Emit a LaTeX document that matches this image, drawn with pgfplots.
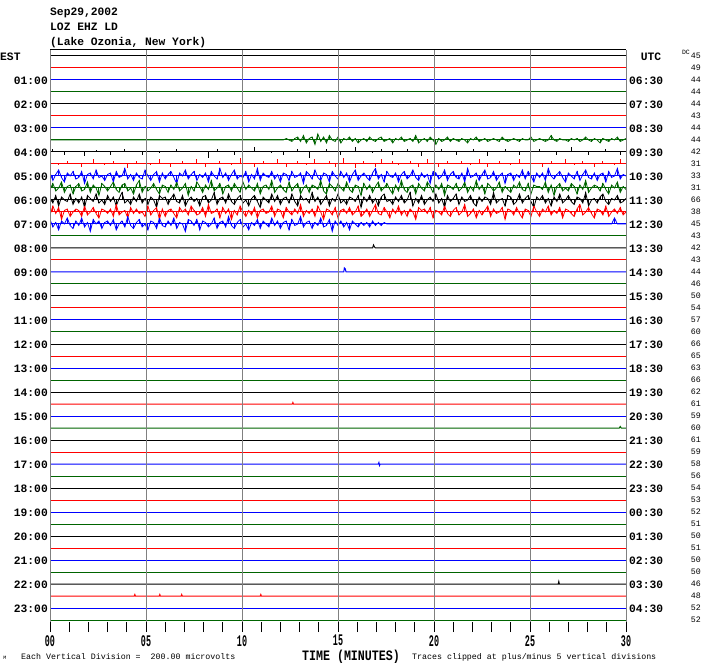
\documentclass[border=0pt]{standalone}
\usepackage{fontspec}
\setmainfont{Liberation Mono}
\usepackage{graphicx}
\usepackage{pgfplots}
\pgfplotsset{compat=1.18}
\usepackage{pgfplotstable}

\definecolor{tk}{RGB}{0,0,0}
\definecolor{tr}{RGB}{255,0,0}
\definecolor{tb}{RGB}{0,0,255}
\definecolor{tg}{RGB}{0,100,0}
\definecolor{gl}{RGB}{128,128,128}

\newcommand\lab{\fontsize{11.3bp}{12bp}\selectfont\bfseries}
\newcommand\sml{\fontsize{8.3bp}{9bp}\selectfont}
\newcommand\dcf{\fontsize{8.3bp}{9bp}\selectfont}
\newcommand\tl[1]{\scalebox{0.7}[1.35]{\fontsize{12bp}{12bp}\selectfont\bfseries #1}}

% trace offsets in pixels (up = +), rows 7..14 (a..h), one sample per 0.15 min
\pgfplotstableread{
x a b c d e f g h
0 0 0 0 2 -1 1 -2 3
0.15 0 2 0 -3 3 -2 4 -2
0.3 0 0 0 1 -2 3 -1 1
0.45 0 0 -1 4 0 -4 3 -4
0.6 0 0 0 -1 4 2 -5 2
0.75 0 -2 0 -4 -3 0 1 0
0.9 0 0 2 2 1 -1 2 4
1.05 0 0 0 0 2 4 -3 -1
1.2 0 0 0 3 -4 -3 0 -3
1.35 0 0 0 -2 1 1 2 2
1.5 0 0 0 -1 3 -2 1 -1
1.65 0 0 -2 3 -2 2 -3 4
1.8 0 -3 0 -5 -1 -5 4 -2
1.95 0 0 0 1 4 3 -2 1
2.1 0 0 0 2 -3 1 0 -5
2.25 0 0 3 -2 2 -1 3 3
2.4 0 1 0 4 0 4 -1 0
2.55 0 0 0 -1 -5 -2 -4 2
2.7 0 0 0 0 3 0 2 -3
2.85 0 0 -1 -3 1 -3 1 1
3 0 0 0 1 -2 3 -1 2
3.15 0 -2 0 2 1 -1 2 -1
3.3 0 0 2 -4 4 2 -3 3
3.45 0 0 0 3 -1 -4 5 -4
3.6 0 0 0 -1 -3 1 -2 0
3.75 0 0 0 0 2 5 0 2
3.9 0 2 0 5 3 -2 1 -2
4.05 0 0 -3 -2 -2 0 -4 5
4.2 0 0 0 1 0 -3 3 -1
4.35 0 0 0 -3 -4 2 -1 -3
4.5 0 0 2 2 2 -1 2 1
4.65 0 0 0 -1 5 4 -1 3
4.8 0 -2 0 -2 -3 -2 0 -2
4.95 0 0 0 4 1 1 -3 0
5.1 0 0 0 0 -2 -3 4 -4
5.25 0 0 -1 -3 0 2 -2 2
5.4 0 0 0 1 3 0 1 1
5.55 0 0 0 3 -1 -5 3 -3
5.7 0 -1 3 -4 -4 3 -5 4
5.85 0 0 0 2 2 1 2 -1
6 0 0 0 -2 1 2 -3 -2
6.15 0 0 0 1 -3 -3 1 2
6.3 0 0 -2 3 2 1 2 -1
6.45 0 0 0 -1 -1 4 -1 4
6.6 0 2 0 -5 4 -1 -4 -3
6.75 0 0 0 2 -2 -2 3 1
6.9 0 0 2 0 0 3 0 0
7.05 0 0 0 4 3 -4 2 -5
7.2 0 0 0 -2 -5 0 -2 3
7.35 0 0 0 1 1 2 4 2
7.5 0 0 0 3 -2 -1 1 -1
7.65 0 0 3 -3 4 1 -2 3
7.8 0 0 0 1 1 -4 -1 -4
7.95 0 0 0 -1 -3 2 3 2
8.1 0 0 -2 2 2 3 -3 1
8.25 0 -4 0 -4 -1 -2 5 -2
8.4 0 0 0 3 5 0 -1 0
8.55 0 0 0 0 -2 5 0 4
8.7 0 2 0 -2 0 -3 2 -3
8.85 0 0 2 5 3 1 -4 1
9 0 0 0 -1 -4 2 3 2
9.15 0 0 0 2 1 -2 -1 -2
9.3 0 0 0 -3 2 4 2 5
9.45 0 0 -1 1 -2 -1 -5 -1
9.6 0 -2 0 4 3 -3 1 -3
9.75 0 0 0 -2 0 1 -2 1
9.9 0 0 4 0 -3 3 4 3
10.05 0 0 0 -1 4 -2 0 -2
10.2 0 0 0 3 -1 0 -3 0
10.35 0 0 0 -4 2 -4 1 -4
10.5 0 0 0 1 0 1 -2 1
10.65 0 3 -2 -2 -2 3 3 -1
10.8 0 0 0 5 3 -1 -4 3
10.95 0 0 0 -3 -4 -5 1 -3
11.1 0 0 2 2 1 2 2 2
11.25 0 0 0 0 2 0 -1 0
11.4 0 0 0 -1 -1 -2 0 -2
11.55 0 -1 0 3 5 4 4 4
11.7 0 0 0 -2 -3 -1 -3 -1
11.85 0 0 3 1 0 3 2 2
12 0 0 0 -4 2 -3 1 -3
12.15 0 -2 0 2 -1 1 -4 1
12.3 1 0 -2 1 -3 2 3 2
12.45 0 0 0 -3 4 -2 0 -4
12.6 -1 0 0 3 -2 4 -2 3
12.75 1 0 0 -1 1 -1 2 -1
12.9 2 2 2 0 3 -4 -1 0
13.05 -1 0 0 2 -4 3 5 5
13.2 3 0 0 -5 0 0 -3 -2
13.35 -2 0 -1 3 2 1 1 1
13.5 1 -4 0 1 -3 -2 -1 2
13.65 2 0 0 -2 2 5 2 -3
13.8 -3 0 3 4 1 -1 -3 1
13.95 4 0 0 -1 -1 2 4 -1
14.1 -1 0 0 -3 5 -3 0 4
14.25 2 0 0 2 -2 0 -5 -2
14.4 -2 2 0 1 -4 3 2 -1
14.55 3 0 2 -4 3 -4 1 3
14.7 0 0 0 3 1 1 -2 -5
14.85 -1 0 -2 0 -2 -1 3 2
15 2 0 0 -2 3 4 -4 -1
15.15 -2 -2 0 3 0 -2 1 2
15.3 1 0 4 -1 -2 0 2 -2
15.45 0 0 0 2 4 -3 -1 1
15.6 2 0 0 -4 -1 2 3 -4
15.75 -1 0 0 1 -3 1 -2 2
15.9 1 3 -3 4 2 -1 0 0
16.05 -2 0 0 -3 1 3 4 -2
16.2 0 0 0 0 -5 -5 -3 1
16.35 1 0 2 2 3 2 -1 -1
16.5 -1 0 0 -1 -1 -1 2 1
16.65 2 0 0 -3 2 3 -3 -2
16.8 0 -1 0 2 -3 -2 1 2
16.95 -1 0 -2 5 1 1 5 -1
17.1 1 0 0 -2 4 -4 -1 1
17.25 2 2 3 1 -2 2 -2 -1
17.4 -1 0 0 -4 0 4 3 1
17.55 0 0 0 3 3 -1 0 0
17.7 1 0 0 0 -1 0 -4 0
17.85 -2 -2 2 -1 -4 -3 2 0
18 1 0 0 2 2 2 -1 0
18.15 0 0 -1 -4 -2 -1 4 0
18.3 2 0 0 1 5 3 -2 0
18.45 -1 0 0 3 -1 -2 1 0
18.6 0 2 0 -2 -3 0 -3 0
18.75 1 0 2 0 1 5 2 0
18.9 -1 0 0 4 2 -4 0 0
19.05 3 0 0 -1 -4 1 -5 0
19.2 -2 0 -2 -3 3 -2 3 0
19.35 0 -3 0 2 0 3 1 0
19.5 1 0 0 -1 -2 -3 2 0
19.65 -1 0 3 1 4 0 -1 0
19.8 2 0 0 -5 1 2 3 0
19.95 0 0 0 3 -3 -1 -4 0
20.1 -3 0 0 2 2 4 1 0
20.25 1 0 -2 -2 -1 -2 0 0
20.4 -1 2 0 0 3 1 -2 0
20.55 0 0 0 4 -5 -5 4 0
20.7 2 0 2 -3 2 3 -1 0
20.85 -1 0 0 1 1 -1 -3 0
21 1 0 0 3 -1 1 1 0
21.15 0 -2 0 -1 3 4 3 0
21.3 -1 0 0 -2 -2 -3 -2 0
21.45 1 0 2 2 0 2 0 0
21.6 0 0 0 -4 4 -1 5 0
21.75 -2 0 0 5 -3 0 -3 0
21.9 1 0 -1 -1 1 3 -1 0
22.05 0 2 0 0 -2 -2 2 0
22.2 2 0 0 2 5 -4 -4 0
22.35 -1 0 3 -3 -1 2 1 0
22.5 0 0 0 1 2 -1 -2 0
22.65 1 0 0 4 -4 2 1 0
22.8 -1 -3 -2 -2 3 1 4 0
22.95 0 0 0 -1 1 -3 -3 0
23.1 1 0 0 3 -2 5 2 0
23.25 0 0 0 -3 0 -2 -1 0
23.4 -1 0 2 0 4 0 0 0
23.55 2 0 0 2 -3 1 3 0
23.7 0 2 0 -5 1 -4 -5 0
23.85 -1 0 0 1 -1 3 2 0
24 0 0 -1 2 -3 2 1 0
24.15 1 0 0 -3 2 -3 -2 0
24.3 0 0 0 1 0 -1 3 0
24.45 -1 -2 3 -1 4 4 -1 0
24.6 1 0 0 4 -1 -2 -4 0
24.75 0 0 0 -2 -2 1 2 0
24.9 0 0 0 3 3 3 1 0
25.05 2 0 2 0 -4 -1 -3 0
25.2 -1 0 0 -4 2 -5 4 0
25.35 0 0 0 2 1 2 0 0
25.5 1 2 0 -1 1 0 -3 0
25.65 0 0 -2 2 -1 3 2 0
25.8 -1 0 0 -3 4 -2 0 0
25.95 0 0 0 5 -3 1 4 0
26.1 3 0 2 0 2 -4 -2 0
26.25 0 0 0 -2 -5 2 1 0
26.4 -1 -2 0 1 1 -1 -1 0
26.55 1 0 0 3 3 4 3 0
26.7 0 0 0 -1 -2 -2 -4 0
26.85 0 0 3 -4 0 0 2 0
27 -1 0 0 2 -2 3 1 0
27.15 1 3 0 0 3 -1 -1 0
27.3 0 0 -1 -2 1 -3 -3 0
27.45 1 0 0 3 -4 2 2 0
27.6 -1 0 0 -3 2 1 5 0
27.75 0 0 2 1 -1 -2 -2 0
27.9 2 0 0 4 5 5 0 0
28.05 0 -2 0 -1 -3 -4 3 0
28.2 -1 0 0 -2 0 0 -1 0
28.35 1 0 -2 2 2 1 -4 0
28.5 0 0 0 -3 1 -2 2 0
28.65 -2 0 0 1 -2 2 1 0
28.8 1 0 2 2 3 4 -2 0
28.95 0 2 0 -4 -1 -1 4 0
29.1 -1 0 0 3 -4 -3 -3 0
29.25 1 0 0 -1 2 1 0 0
29.4 0 0 -1 0 0 0 2 4
29.55 2 0 0 5 4 3 -1 0
29.7 -1 -2 3 -2 -3 -2 3 0
29.85 0 0 0 1 1 -1 -2 0
30 1 0 2 0 -1 1 0 0
}\traces

\begin{document}
\begin{tikzpicture}
\begin{axis}[
  name=ax,
  scale only axis, width=576bp, height=572bp,
  xmin=0, xmax=30, ymin=-566, ymax=6,
  axis line style={draw=none},
  ytick=\empty,
  xtick={0,5,...,30},
  xticklabels={\tl{00},\tl{05},\tl{10},\tl{15},\tl{20},\tl{25},\tl{30}},
  minor x tick num=4,
  xtick pos=left,
  tick align=outside,
  major tick length=10bp, minor tick length=10bp,
  every tick/.style={black, line width=1bp},
  xmajorgrids,
  major grid style={gl, line width=1bp},
  xticklabel style={inner sep=0pt, yshift=-3bp},
  axis on top,
  every axis plot/.append style={line width=1bp},
]
% noisy rows 7..14: baseline, trace through the samples, vertical spikes
\addplot[tg] coordinates {(0,-84) (30,-84)};
\addplot[tk] coordinates {(0,-96) (30,-96)};
\addplot[tr] coordinates {(0,-108) (30,-108)};
\addplot[tb] coordinates {(0,-120) (30,-120)};
\addplot[tg] coordinates {(0,-132) (30,-132)};
\addplot[tk] coordinates {(0,-144) (30,-144)};
\addplot[tr] coordinates {(0,-156) (30,-156)};
\addplot[tb] coordinates {(0,-168) (30,-168)};
\addplot[tg, line width=0.8bp] table[x=x, y expr=1.5*\thisrow{a}-84] {\traces};
\addplot[tb, line width=0.8bp] table[x=x, y expr=1.5*\thisrow{d}-120] {\traces};
\addplot[tg, line width=0.8bp] table[x=x, y expr=1.5*\thisrow{e}-132] {\traces};
\addplot[tk, line width=0.8bp] table[x=x, y expr=1.5*\thisrow{f}-144] {\traces};
\addplot[tr, line width=0.8bp] table[x=x, y expr=1.5*\thisrow{g}-156] {\traces};
\addplot[tb, line width=0.8bp] table[x=x, y expr=1.5*\thisrow{h}-168] {\traces};
\addplot[tg, -, quiver={u=0, v=1.5*\thisrow{a}}] table[x=x, y expr=-84] {\traces};
\addplot[tk, -, quiver={u=0, v=1.5*\thisrow{b}}] table[x=x, y expr=-96] {\traces};
\addplot[tr, -, quiver={u=0, v=1.5*\thisrow{c}}] table[x=x, y expr=-108] {\traces};
\addplot[tb, -, quiver={u=0, v=1.5*\thisrow{d}}] table[x=x, y expr=-120] {\traces};
\addplot[tg, -, quiver={u=0, v=1.5*\thisrow{e}}] table[x=x, y expr=-132] {\traces};
\addplot[tk, -, quiver={u=0, v=1.5*\thisrow{f}}] table[x=x, y expr=-144] {\traces};
\addplot[tr, -, quiver={u=0, v=1.5*\thisrow{g}}] table[x=x, y expr=-156] {\traces};
\addplot[tb, -, quiver={u=0, v=1.5*\thisrow{h}}] table[x=x, y expr=-168] {\traces};
% quiet rows
\addplot[tk] coordinates {(0,0) (30,0)};
\addplot[tr] coordinates {(0,-12) (30,-12)};
\addplot[tb] coordinates {(0,-24) (30,-24)};
\addplot[tg] coordinates {(0,-36) (30,-36)};
\addplot[tk] coordinates {(0,-48) (30,-48)};
\addplot[tr] coordinates {(0,-60) (30,-60)};
\addplot[tb] coordinates {(0,-72) (30,-72)};
\addplot[tg] coordinates {(0,-180) (30,-180)};
\addplot[tk] coordinates {(0,-192) (16.8,-192) (16.85,-189) (16.9,-191) (16.95,-192) (30,-192)};
\addplot[tr] coordinates {(0,-204) (30,-204)};
\addplot[tb] coordinates {(0,-216) (15.3,-216) (15.33,-212) (15.38,-213) (15.42,-216) (30,-216)};
\addplot[tg] coordinates {(0,-228) (30,-228)};
\addplot[tk] coordinates {(0,-240) (30,-240)};
\addplot[tr] coordinates {(0,-252) (30,-252)};
\addplot[tb] coordinates {(0,-264) (30,-264)};
\addplot[tg] coordinates {(0,-276) (30,-276)};
\addplot[tk] coordinates {(0,-288) (30,-288)};
\addplot[tr] coordinates {(0,-300) (30,-300)};
\addplot[tb] coordinates {(0,-312) (30,-312)};
\addplot[tg] coordinates {(0,-324) (30,-324)};
\addplot[tk] coordinates {(0,-336) (30,-336)};
\addplot[tr] coordinates {(0,-348) (12.62,-348) (12.65,-346.5) (12.68,-348) (30,-348)};
\addplot[tb] coordinates {(0,-360) (30,-360)};
\addplot[tg] coordinates {(0,-372) (29.65,-372) (29.7,-370.5) (29.75,-372) (30,-372)};
\addplot[tk] coordinates {(0,-384) (30,-384)};
\addplot[tr] coordinates {(0,-396) (30,-396)};
\addplot[tb] coordinates {(0,-408) (17.1,-408) (17.13,-406.5) (17.16,-409.5) (17.2,-408) (30,-408)};
\addplot[tg] coordinates {(0,-420) (30,-420)};
\addplot[tk] coordinates {(0,-432) (30,-432)};
\addplot[tr] coordinates {(0,-444) (30,-444)};
\addplot[tb] coordinates {(0,-456) (30,-456)};
\addplot[tg] coordinates {(0,-468) (30,-468)};
\addplot[tk] coordinates {(0,-480) (30,-480)};
\addplot[tr] coordinates {(0,-492) (30,-492)};
\addplot[tb] coordinates {(0,-504) (30,-504)};
\addplot[tg] coordinates {(0,-516) (30,-516)};
\addplot[tk] coordinates {(0,-528) (26.47,-528) (26.5,-525.5) (26.53,-528) (30,-528)};
\addplot[tr] coordinates {(0,-540) (4.39,-540) (4.42,-538.5) (4.45,-540) (5.69,-540) (5.72,-538.5) (5.75,-540)
  (6.83,-540) (6.86,-538.5) (6.89,-540) (10.95,-540) (10.98,-538.5) (11.01,-540) (30,-540)};
\addplot[tb] coordinates {(0,-552) (30,-552)};
\addplot[tg] coordinates {(0,-564) (30,-564)};
\end{axis}

\coordinate (O) at ([xshift=-50bp,yshift=50bp]ax.north west);
\begin{scope}[shift={(O)}, x=1bp, y=-1bp]
  \draw[black, line width=1bp] (50,50) -- (626,50);
  \node[anchor=base west, inner sep=0] at (50,16) {\lab Sep29,2002};
  \node[anchor=base west, inner sep=0] at (50,31) {\lab LOZ EHZ LD};
  \node[anchor=base west, inner sep=0] at (50,46) {\lab (Lake Ozonia, New York)};
  \node[anchor=west, inner sep=0] at (0,57) {\lab EST};
  \node[anchor=center, inner sep=0] at (651,57) {\lab UTC};
  \foreach \h [count=\k] in {01:00,02:00,03:00,04:00,05:00,06:00,07:00,08:00,09:00,10:00,11:00,12:00,
      13:00,14:00,15:00,16:00,17:00,18:00,19:00,20:00,21:00,22:00,23:00}
    \node[anchor=east, inner sep=0] at (48,{57+24*\k}) {\lab \h};
  \foreach \h [count=\k] in {06:30,07:30,08:30,09:30,10:30,11:30,12:30,13:30,14:30,15:30,16:30,17:30,
      18:30,19:30,20:30,21:30,22:30,23:30,00:30,01:30,02:30,03:30,04:30}
    \node[anchor=west, inner sep=0] at (629,{57+24*\k}) {\lab \h};
  \node[anchor=east, inner sep=0] at (690,52) {\fontsize{6.5bp}{7bp}\selectfont DC};
  \foreach \v [count=\k from 0] in {45,49,44,44,44,43,44,44,42,31,33,31,66,38,45,43,42,43,44,46,50,54,57,60,
      66,65,63,66,62,61,59,60,61,59,58,56,54,53,52,51,50,51,50,50,46,48,52,52}
    \node[anchor=east, inner sep=0] at (701,{56+12*\k}) {\dcf \v};
  \node[anchor=center, inner sep=0] at (351,657) {\scalebox{0.97}[1.2]{\fontsize{12bp}{12bp}\selectfont\bfseries TIME (MINUTES)}};
  \node[anchor=west, inner sep=0] at (21,657) {\sml Each Vertical Division =\ \ 200.00 microvolts};
  \node[anchor=west, inner sep=0] at (412,657) {\sml Traces clipped at plus/minus 5 vertical divisions};
  \node[anchor=center, inner sep=0] at (5,658) {\fontsize{5bp}{5bp}\selectfont M};
  \pgfresetboundingbox
  \path[use as bounding box] (0,0) rectangle (706,670);
\end{scope}
\end{tikzpicture}
\end{document}
